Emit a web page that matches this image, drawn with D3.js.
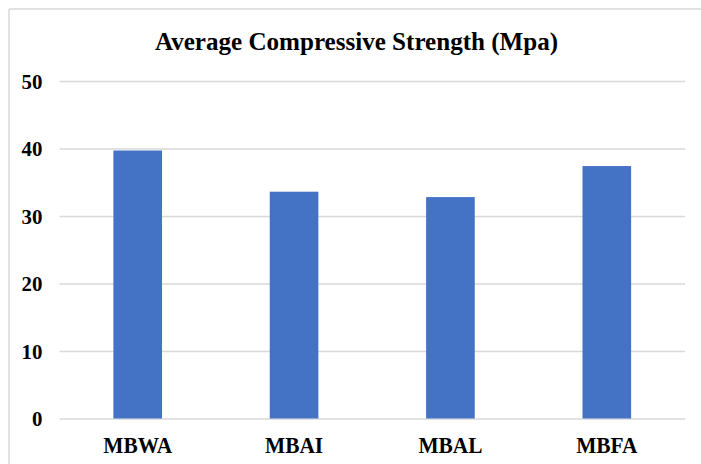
<!DOCTYPE html>
<html>
<head>
<meta charset="utf-8">
<script src="https://cdn.jsdelivr.net/npm/d3@7"></script>
<style>
  html, body { margin: 0; padding: 0; background: #ffffff; }
  svg { display: block; }
  text { font-family: "Liberation Serif", "Times New Roman", serif; font-weight: bold; fill: #000; }
</style>
</head>
<body>
<svg id="chart" width="701" height="464"></svg>
<script>
const categories = ["MBWA", "MBAI", "MBAL", "MBFA"];
const values = [39.7, 33.6, 32.8, 37.4];
const yTicks = [0, 10, 20, 30, 40, 50];
const title = "Average Compressive Strength (Mpa)";

const svg = d3.select("#chart");
const W = 701, H = 464;
const plot = { left: 59.5, right: 685, top: 81, bottom: 418.5 };

// outer frame (top and left edges visible)
svg.append("line").attr("x1", 9).attr("x2", W).attr("y1", 9).attr("y2", 9)
  .attr("stroke", "#d9d9d9").attr("stroke-width", 1.5);
svg.append("line").attr("x1", 9).attr("x2", 9).attr("y1", 9).attr("y2", H)
  .attr("stroke", "#d9d9d9").attr("stroke-width", 1.5);

const x = d3.scaleBand().domain(categories).range([plot.left, plot.right])
  .paddingInner(0.689).paddingOuter(0.689 / 2);
const y = d3.scaleLinear().domain([0, 50]).range([plot.bottom, plot.top]);

// gridlines + y labels
const yAxis = d3.axisLeft(y).tickValues(yTicks).tickSize(-(plot.right - plot.left)).tickFormat(d3.format("d")).tickPadding(17);
const gy = svg.append("g").attr("transform", `translate(${plot.left},0)`).call(yAxis);
gy.select(".domain").remove();
gy.selectAll(".tick line").attr("stroke", "#d9d9d9").attr("stroke-width", 1.5);
gy.selectAll(".tick text")
  .attr("font-size", 22).attr("font-family", "Liberation Serif, Times New Roman, serif")
  .attr("font-weight", "bold").attr("fill", "#000")
  .attr("dy", "0.34em")
  .each(function() {
    const t = d3.select(this);
    const tx = +t.attr("x");
    t.attr("x", null).attr("transform", `translate(${tx},0) scale(0.95,1)`);
  });

// bars
svg.append("g").selectAll("rect").data(values).join("rect")
  .attr("x", (d, i) => x(categories[i]))
  .attr("width", x.bandwidth())
  .attr("y", d => y(d))
  .attr("height", d => y(0) - y(d))
  .attr("fill", "#4472C4");

// x axis labels
const xAxis = d3.axisBottom(x).tickSize(0).tickPadding(0);
const gx = svg.append("g").attr("transform", `translate(0,${plot.bottom})`).call(xAxis);
gx.select(".domain").remove();
gx.selectAll(".tick text")
  .attr("font-size", 23).attr("font-family", "Liberation Serif, Times New Roman, serif")
  .attr("font-weight", "bold").attr("fill", "#000")
  .attr("y", null).attr("dy", null)
  .attr("transform", `translate(0,34) scale(0.93,1)`);

// title
svg.append("text")
  .attr("transform", `translate(356.5,49.5) scale(0.965,1)`)
  .attr("text-anchor", "middle")
  .attr("font-size", 26)
  .text(title);
</script>
</body>
</html>
